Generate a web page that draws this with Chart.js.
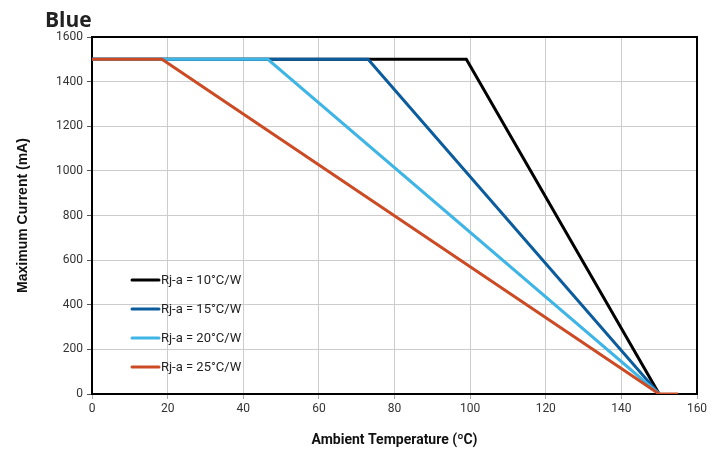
<!DOCTYPE html>
<html>
<head>
<meta charset="utf-8">
<script src="https://cdn.jsdelivr.net/npm/chart.js@4/dist/chart.umd.min.js"></script>
<style>
  html, body { margin: 0; padding: 0; background: #fff; }
  #c { display: block; }
</style>
</head>
<body>
<canvas id="c" width="722" height="449"></canvas>
<script>
// series data
const labels = ['Rj-a = 10°C/W', 'Rj-a = 15°C/W', 'Rj-a = 20°C/W', 'Rj-a = 25°C/W'];
const colors = ['#000000', '#0b5c9c', '#3fb5e6', '#cc4a24'];
const temp10 = [0, 99, 150];
const cur10 = [1500, 1500, 0];
const temp15 = [0, 73, 150];
const cur15 = [1500, 1500, 0];
const temp20 = [0, 46.5, 150];
const cur20 = [1500, 1500, 0];
const temp25 = [0, 18.5, 150, 155];
const cur25 = [1500, 1500, 0, 0];
const xTicks = [0, 20, 40, 60, 80, 100, 120, 140, 160];
const yTicks = [0, 200, 400, 600, 800, 1000, 1200, 1400, 1600];

function pts(xs, ys) {
  return xs.map((x, i) => ({ x: x, y: ys[i] }));
}
const series = [pts(temp10, cur10), pts(temp15, cur15), pts(temp20, cur20), pts(temp25, cur25)];

// frame + title + legend drawn by hand
const extras = {
  id: 'extras',
  beforeDatasetsDraw(chart) {
    const { ctx, chartArea: a } = chart;
    ctx.save();
    ctx.strokeStyle = '#000';
    ctx.lineWidth = 2;
    ctx.strokeRect(a.left, a.top, a.right - a.left, a.bottom - a.top);
    ctx.restore();
  },
  afterDraw(chart) {
    const ctx = chart.ctx;
    ctx.save();
    ctx.fillStyle = '#222';
    ctx.font = 'bold 21px "Open Sans"';
    ctx.textBaseline = 'alphabetic';
    ctx.fillText('Blue', 45, 27);

    ctx.font = '13px Roboto';
    ctx.textBaseline = 'middle';
    chart.data.datasets.forEach((ds, i) => {
      const y = 280 + i * 29;
      ctx.strokeStyle = ds.borderColor;
      ctx.lineWidth = 3;
      ctx.lineCap = 'round';
      ctx.beginPath();
      ctx.moveTo(132, y);
      ctx.lineTo(159, y);
      ctx.stroke();
      ctx.fillStyle = '#222';
      ctx.fillText(ds.label, 161, y + 1);
    });
    ctx.restore();
  }
};

new Chart(document.getElementById('c').getContext('2d'), {
  type: 'line',
  data: {
    datasets: series.map((d, i) => ({
      label: labels[i],
      data: d,
      borderColor: colors[i],
      backgroundColor: colors[i],
      borderWidth: 3,
      pointRadius: 0,
      tension: 0,
      order: 3 - i
    }))
  },
  options: {
    responsive: false,
    animation: false,
    layout: { padding: { top: 37, right: 25, left: 0, bottom: 0 } },
    plugins: {
      legend: { display: false },
      tooltip: { enabled: false }
    },
    scales: {
      x: {
        type: 'linear',
        min: 0,
        max: 160,
        afterBuildTicks: s => { s.ticks = xTicks.map(v => ({ value: v })); },
        afterFit: s => { s.height = 55; },
        grid: { color: '#cccccc', tickColor: '#aaaaaa', tickLength: 5 },
        border: { display: false },
        ticks: { color: '#333', font: { family: 'Roboto', size: 12 }, padding: 3, maxRotation: 0, callback: v => String(v) },
        title: {
          display: true,
          text: 'Ambient Temperature (ºC)',
          color: '#111',
          font: { family: 'Roboto', size: 14, weight: 'bold' },
          padding: { top: 6, bottom: 0 }
        }
      },
      y: {
        min: 0,
        max: 1600,
        afterBuildTicks: s => { s.ticks = yTicks.map(v => ({ value: v })); },
        afterFit: s => { s.width = 92; },
        grid: { color: '#cccccc', tickColor: '#555555', tickLength: 5 },
        border: { display: false },
        ticks: { color: '#333', font: { family: 'Roboto', size: 12 }, padding: 4, callback: v => String(v) },
        title: {
          display: true,
          text: 'Maximum Current (mA)',
          color: '#111',
          font: { family: 'Liberation Sans', size: 14, weight: 'bold' },
          padding: { top: 15, bottom: 4 }
        }
      }
    }
  },
  plugins: [extras]
});
</script>
</body>
</html>
